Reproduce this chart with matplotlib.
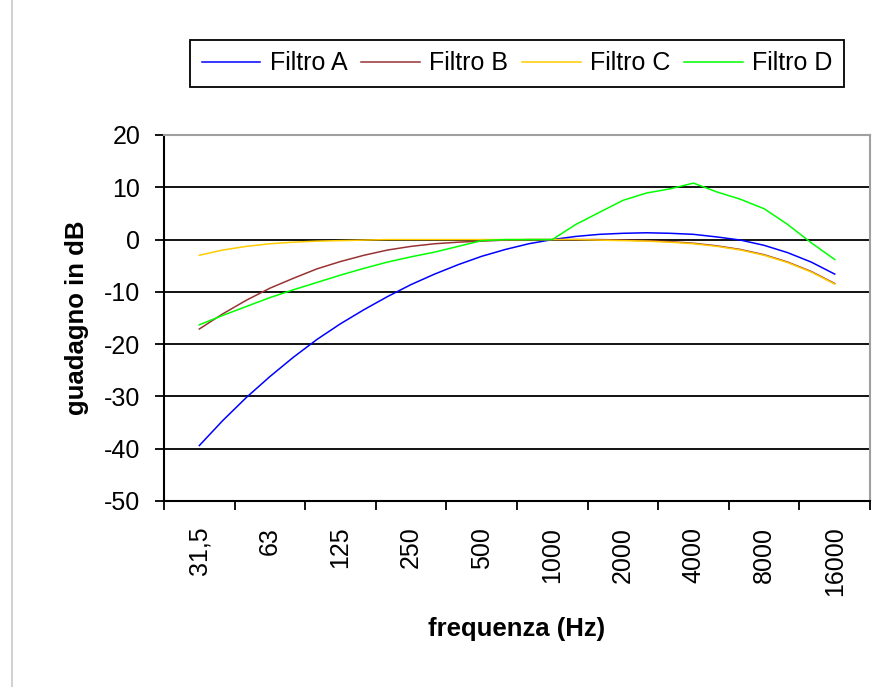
import matplotlib
matplotlib.use("Agg")
import matplotlib.pyplot as plt
import numpy as np
from matplotlib.lines import Line2D

plt.rcParams["font.family"] = ["Liberation Sans", "DejaVu Sans"]

# third-octave bands, 31.5 Hz .. 16 kHz
bands = [31.5, 40, 50, 63, 80, 100, 125, 160, 200, 250, 315, 400, 500, 630,
         800, 1000, 1250, 1600, 2000, 2500, 3150, 4000, 5000, 6300, 8000,
         10000, 12500, 16000]
tick_labels = ["31,5", "63", "125", "250", "500", "1000", "2000", "4000",
               "8000", "16000"]

filtro_a = [-39.4, -34.6, -30.2, -26.2, -22.5, -19.1, -16.1, -13.4, -10.9,
            -8.6, -6.6, -4.8, -3.2, -1.9, -0.8, 0.0, 0.6, 1.0, 1.2, 1.3, 1.2,
            1.0, 0.5, -0.1, -1.1, -2.5, -4.3, -6.6]
filtro_b = [-17.1, -14.2, -11.6, -9.3, -7.4, -5.6, -4.2, -3.0, -2.0, -1.3,
            -0.8, -0.5, -0.3, -0.1, 0.0, 0.0, 0.0, 0.0, -0.1, -0.2, -0.4,
            -0.7, -1.2, -1.9, -2.9, -4.3, -6.1, -8.4]
filtro_c = [-3.0, -2.0, -1.3, -0.8, -0.5, -0.3, -0.2, -0.1, 0.0, 0.0, 0.0,
            0.0, 0.0, 0.0, 0.0, 0.0, 0.0, -0.1, -0.2, -0.3, -0.5, -0.8, -1.3,
            -2.0, -3.0, -4.4, -6.2, -8.5]
filtro_d = [-16.3, -14.5, -12.8, -11.1, -9.6, -8.2, -6.8, -5.5, -4.3, -3.3,
            -2.4, -1.3, -0.2, 0.0, 0.0, 0.0, 2.9, 5.2, 7.5, 8.9, 9.7, 10.8,
            9.1, 7.7, 5.9, 2.9, -0.6, -3.8]

series = [("Filtro A", filtro_a, "#0000ff"),
          ("Filtro B", filtro_b, "#993333"),
          ("Filtro C", filtro_c, "#ffcc00"),
          ("Filtro D", filtro_d, "#00ff00")]

fig = plt.figure(figsize=(8.96, 6.87), dpi=100)
ax = fig.add_axes([164 / 896, 1 - 501 / 687, 706 / 896, 366 / 687])

# 30 category slots, bands sit in slots 1..28
x = np.arange(1, len(bands) + 1)
yticks = np.arange(-50, 21, 10)

for val in yticks[1:-1]:
    ax.axhline(val, color="black", lw=1.3, zorder=1)

handles = []
for name, vals, col in series:
    line, = ax.plot(x, vals, color=col, lw=1.1, label=name, zorder=3)
    handles.append(line)

ax.set_xlim(-0.5, 29.5)
ax.set_ylim(-50, 20)
ax.set_yticks(yticks)
ax.set_yticklabels([str(v) for v in yticks])

ax.set_xticks(np.arange(-0.5, 30, 3))
ax.set_xticklabels([])
ax.set_xticks(np.arange(1, 29, 3), minor=True)
ax.set_xticklabels(tick_labels, minor=True, rotation=90)

ax.tick_params(axis="y", direction="out", length=6.5, width=1.3, pad=10.5,
               labelsize=18)
ax.tick_params(axis="x", which="major", direction="out", length=6.5,
               width=1.3)
ax.tick_params(axis="x", which="minor", length=0, pad=18.5, labelsize=18)

for side in ("left", "bottom"):
    ax.spines[side].set_color("black")
    ax.spines[side].set_linewidth(1.5)
for side in ("top", "right"):
    ax.spines[side].set_color("#a0a0a0")
    ax.spines[side].set_linewidth(1.5)

ax.set_ylabel("guadagno in dB", fontsize=18.5, fontweight="bold")
ax.yaxis.set_label_coords(-0.106, 0.5)
ax.set_xlabel("frequenza (Hz)", fontsize=18.5, fontweight="bold")
ax.xaxis.set_label_coords(0.5, -0.316)

leg = fig.legend(handles=handles, loc="center", ncol=4,
                 bbox_to_anchor=(517 / 896, 1 - 63.5 / 687), fontsize=18,
                 frameon=True, fancybox=False, edgecolor="black",
                 framealpha=1, handlelength=2.35, handletextpad=0.37,
                 columnspacing=0.55, borderpad=0.45)
leg.get_frame().set_linewidth(1.3)

# thin frame edge on the left
fig.add_artist(Line2D([12 / 896, 12 / 896], [0, 1], color="#c8c8c8",
                      lw=1.2, transform=fig.transFigure))

fig.savefig("out.png", dpi=100)
